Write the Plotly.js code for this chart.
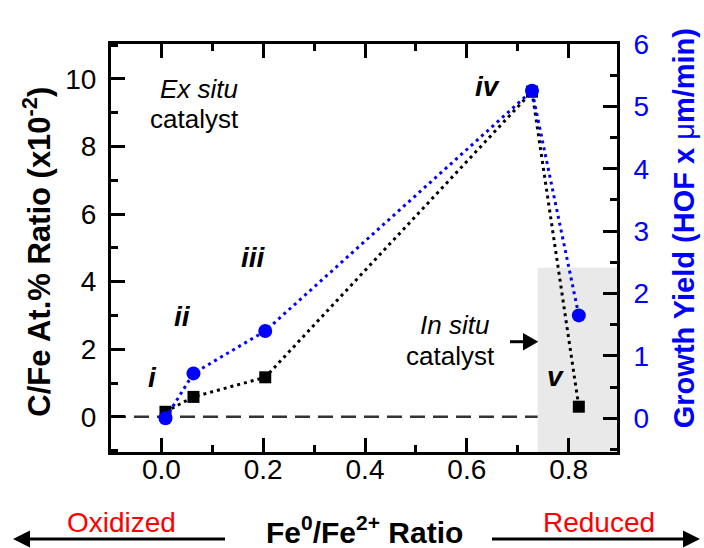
<!DOCTYPE html>
<html>
<head>
<meta charset="utf-8">
<script src="https://cdn.plot.ly/plotly-3.0.1.min.js"></script>
<style>html,body{margin:0;padding:0;background:#fff;}#chart{width:704px;height:548px;}</style>
</head>
<body>
<div id="chart"></div>
<script>
// Data
const samples = ['i', 'ii', 'iii', 'iv', 'v'];
const feRatio = [0.008, 0.063, 0.204, 0.728, 0.820];      // Fe0/Fe2+ ratio (x)
const cFeRatio = [0.15, 0.59, 1.17, 9.62, 0.30];         // C/Fe At.% ratio (x10^-2), left axis
const growthYield = [0.0, 0.72, 1.40, 5.25, 1.65];       // Growth yield (HOF x um/min), right axis
const xTicks = [0.0, 0.2, 0.4, 0.6, 0.8];
const xTickText = ['0.0', '0.2', '0.4', '0.6', '0.8'];
const yTicks = [0, 2, 4, 6, 8, 10];
const y2Ticks = [0, 1, 2, 3, 4, 5, 6];

const BLUE = '#0000ff';
const FONT = 'Liberation Sans, Arial, sans-serif';

const traces = [
  {
    x: feRatio, y: cFeRatio, type: 'scatter', mode: 'lines+markers',
    name: 'C/Fe At.% Ratio', yaxis: 'y', cliponaxis: false,
    line: {color: '#000', width: 3, dash: '3px,4px'},
    marker: {symbol: 'square', size: 12, color: '#000'}
  },
  {
    x: feRatio, y: growthYield, type: 'scatter', mode: 'lines+markers',
    name: 'Growth Yield', yaxis: 'y2', cliponaxis: false,
    line: {color: BLUE, width: 3, dash: '3px,4px'},
    marker: {symbol: 'circle', size: 14, color: BLUE}
  }
];

const tickFont = {family: FONT, size: 28, color: '#000'};
const labelFont = {family: FONT, size: 28, color: '#000'};

function roman(txt, x, y) {
  return {text: '<b><i>' + txt + '</i></b>', x: x, y: y, xref: 'x', yref: 'y',
    showarrow: false, xanchor: 'center', yanchor: 'middle', font: labelFont};
}

const annotations = [
  roman('i', -0.017, 1.17),
  roman('ii', 0.041, 2.98),
  roman('iii', 0.180, 4.70),
  roman('iv', 0.640, 9.76),
  roman('v', 0.774, 1.18),
  {text: '<i>Ex situ</i>', x: 0.073, y: 9.7, xref: 'x', yref: 'y', showarrow: false,
   xanchor: 'center', yanchor: 'middle', font: {family: FONT, size: 26, color: '#000'}},
  {text: 'catalyst', x: 0.065, y: 8.82, xref: 'x', yref: 'y', showarrow: false,
   xanchor: 'center', yanchor: 'middle', font: {family: FONT, size: 26, color: '#000'}},
  {text: '<i>In situ</i>', x: 0.576, y: 2.71, xref: 'x', yref: 'y', showarrow: false,
   xanchor: 'center', yanchor: 'middle', font: {family: FONT, size: 26, color: '#000'}},
  {text: 'catalyst', x: 0.568, y: 1.80, xref: 'x', yref: 'y', showarrow: false,
   xanchor: 'center', yanchor: 'middle', font: {family: FONT, size: 26, color: '#000'}},
  // axis titles
  {text: '<b>C/Fe At.% Ratio (x10<sup>-2</sup>)</b>', textangle: -90, x: -0.147, y: 0.49,
   xref: 'paper', yref: 'paper', showarrow: false, xanchor: 'center', yanchor: 'middle',
   font: {family: FONT, size: 31, color: '#000'}},
  {text: '<b>Growth Yield (HOF x </b>\u03bc<b>m/min)</b>', textangle: -90, x: 1.134, y: 0.548,
   xref: 'paper', yref: 'paper', showarrow: false, xanchor: 'center', yanchor: 'middle',
   font: {family: FONT, size: 29, color: BLUE}},
  {text: '<b>Fe<sup>0</sup>/Fe<sup>2+</sup> Ratio</b>', x: 0.501, y: -0.191,
   xref: 'paper', yref: 'paper', showarrow: false, xanchor: 'center', yanchor: 'middle',
   font: {family: FONT, size: 30, color: '#000'}},
  {text: 'Oxidized', x: 0.0198, y: -0.1716, xref: 'paper', yref: 'paper', showarrow: false,
   xanchor: 'center', yanchor: 'middle', font: {family: FONT, size: 28, color: '#ff0000'}},
  {text: 'Reduced', x: 0.964, y: -0.1716, xref: 'paper', yref: 'paper', showarrow: false,
   xanchor: 'center', yanchor: 'middle', font: {family: FONT, size: 28, color: '#ff0000'}}
];

const arrowLine = {color: '#000', width: 3};
const shapes = [
  {type: 'rect', xref: 'x', yref: 'y', x0: 0.739, x1: 0.895, y0: -1.04, y1: 4.41,
   fillcolor: '#e9e9e9', line: {width: 0}, layer: 'below'},
  {type: 'line', xref: 'paper', yref: 'y', x0: 0, x1: 1, y0: 0, y1: 0,
   line: {color: '#333', width: 2.5, dash: '15px,8px'}, layer: 'below'},
  // arrow pointing into the in-situ region
  {type: 'line', xref: 'paper', yref: 'paper', x0: 0.7885, x1: 0.8182, y0: 0.2703, y1: 0.2703, line: arrowLine},
  {type: 'path', xref: 'paper', yref: 'paper', path: 'M0.8445,0.2703 L0.8142,0.2917 L0.8142,0.2490 Z',
   fillcolor: '#000', line: {width: 0}},
  // "Oxidized" direction arrow (left)
  {type: 'line', xref: 'paper', yref: 'paper', x0: -0.164, x1: 0.2253, y0: -0.2132, y1: -0.2132, line: arrowLine},
  {type: 'path', xref: 'paper', yref: 'paper', path: 'M-0.1937,-0.2132 L-0.1601,-0.1924 L-0.1601,-0.2341 Z',
   fillcolor: '#000', line: {width: 0}},
  // "Reduced" direction arrow (right)
  {type: 'line', xref: 'paper', yref: 'paper', x0: 0.7530, x1: 1.1344, y0: -0.2132, y1: -0.2132, line: arrowLine},
  {type: 'path', xref: 'paper', yref: 'paper', path: 'M1.1640,-0.2132 L1.1304,-0.1924 L1.1304,-0.2341 Z',
   fillcolor: '#000', line: {width: 0}}
];

const layout = {
  width: 704, height: 548,
  margin: {l: 111, r: 87, t: 44, b: 96},
  paper_bgcolor: '#fff', plot_bgcolor: '#fff',
  showlegend: false,
  font: {family: FONT, color: '#000'},
  xaxis: {
    range: [-0.099, 0.895], tickvals: xTicks, ticktext: xTickText,
    ticks: 'inside', ticklen: 14, tickwidth: 3, tickcolor: '#000',
    minor: {dtick: 0.1, ticks: 'inside', ticklen: 7, tickwidth: 3, tickcolor: '#000', showgrid: false},
    showline: true, linewidth: 3, linecolor: '#000', mirror: 'ticks',
    showgrid: false, zeroline: false, tickfont: tickFont, ticklabelstandoff: -10
  },
  yaxis: {
    range: [-1.04, 11.03], tickvals: yTicks,
    ticks: 'inside', ticklen: 14, tickwidth: 3, tickcolor: '#000',
    minor: {dtick: 1, ticks: 'inside', ticklen: 7, tickwidth: 3, tickcolor: '#000', showgrid: false},
    showline: true, linewidth: 3, linecolor: '#000',
    showgrid: false, zeroline: false, tickfont: tickFont, ticklabelstandoff: 6
  },
  yaxis2: {
    range: [-0.54, 6.0], tickvals: y2Ticks, overlaying: 'y', side: 'right',
    ticks: 'inside', ticklen: 14, tickwidth: 3, tickcolor: '#000',
    minor: {dtick: 0.5, ticks: 'inside', ticklen: 7, tickwidth: 3, tickcolor: '#000', showgrid: false},
    showline: true, linewidth: 3, linecolor: '#000',
    showgrid: false, zeroline: false, tickfont: {family: FONT, size: 28, color: BLUE}, ticklabelstandoff: 8
  },
  annotations: annotations,
  shapes: shapes
};

Plotly.newPlot('chart', traces, layout, {displayModeBar: false, staticPlot: true});
</script>
</body>
</html>
